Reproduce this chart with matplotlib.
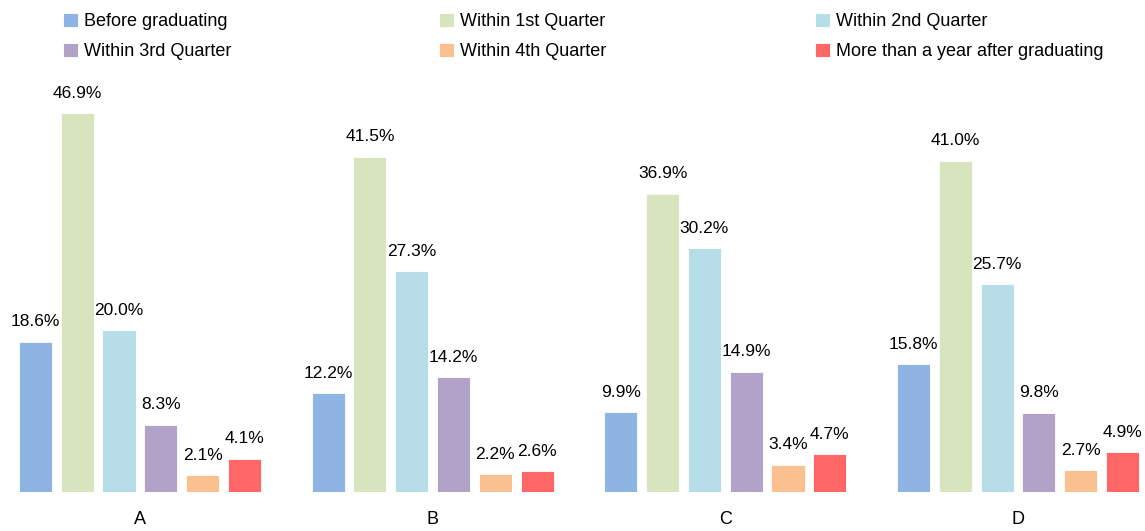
import numpy as np
import matplotlib
matplotlib.use("Agg")
import matplotlib.pyplot as plt

plt.rcParams['font.family'] = ['Liberation Sans Narrow', 'Liberation Sans', 'DejaVu Sans']

groups = ["A", "B", "C", "D"]
series = ["Before graduating", "Within 1st Quarter", "Within 2nd Quarter",
          "Within 3rd Quarter", "Within 4th Quarter", "More than a year after graduating"]
before = [18.6, 12.2, 9.9, 15.8]
q1 = [46.9, 41.5, 36.9, 41.0]
q2 = [20.0, 27.3, 30.2, 25.7]
q3 = [8.3, 14.2, 14.9, 9.8]
q4 = [2.1, 2.2, 3.4, 2.7]
later = [4.1, 2.6, 4.7, 4.9]
colors = ["#8EB4E3", "#D7E4BD", "#B7DEE8", "#B3A2C7", "#FAC090", "#FF6666"]

values = [before, q1, q2, q3, q4, later]

fig = plt.figure(figsize=(11.45, 5.31), dpi=100)
ax = fig.add_axes([0, 0.0734, 1, 0.776])

x = np.arange(len(groups))
step = 0.1428
width = 0.113
handles = []
for i, (name, vals, c) in enumerate(zip(series, values, colors)):
    pos = x + (i - 2.5) * step
    bars = ax.bar(pos, vals, width, color=c, edgecolor="white", linewidth=0.6, label=name)
    handles.append(bars)
    for b, v in zip(bars, vals):
        ax.annotate(f"{v:.1f}%", (b.get_x() + b.get_width() / 2, v),
                    xytext=(0, 9), textcoords="offset points",
                    ha="center", va="bottom", fontsize=12.5)

ax.set_xlim(-0.478, 3.434)
ax.set_ylim(0, 51)
ax.set_yticks([])
ax.set_xticks(x)
ax.set_xticklabels(groups, fontsize=13)
ax.tick_params(axis="x", length=0, pad=14)
for s in ax.spines.values():
    s.set_visible(False)

# three legend columns, filled row by row
for col, left in enumerate([50, 426, 802]):
    fig.legend([handles[col], handles[col + 3]], [series[col], series[col + 3]],
               loc="upper left", bbox_to_anchor=(left / 1145, 1.0), frameon=False,
               fontsize=13, handlelength=0.85, handleheight=0.85, handletextpad=0.35,
               labelspacing=0.7, borderaxespad=0.3)

fig.savefig("out.png", dpi=100)
